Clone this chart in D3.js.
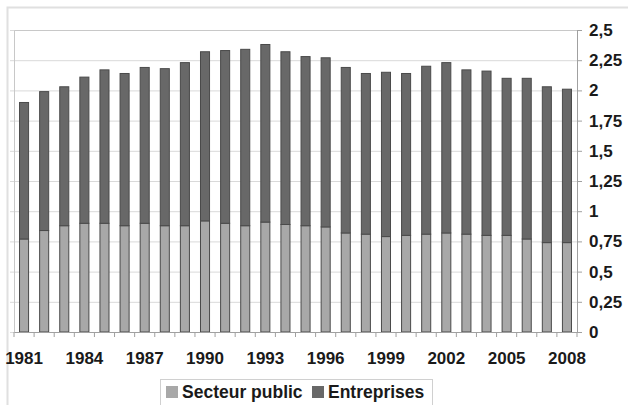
<!DOCTYPE html>
<html>
<head>
<meta charset="utf-8">
<script src="https://cdn.jsdelivr.net/npm/d3@7"></script>
<style>
  body { margin: 0; background: #fff; }
  svg { display: block; font-family: "Liberation Sans", Arial, sans-serif; }
</style>
</head>
<body>
<svg class="chart" width="628" height="405"></svg>
<script>
var years = [1981, 1982, 1983, 1984, 1985, 1986, 1987, 1988, 1989, 1990,
             1991, 1992, 1993, 1994, 1995, 1996, 1997, 1998, 1999, 2000,
             2001, 2002, 2003, 2004, 2005, 2006, 2007, 2008];

var secteurPublic = [0.77, 0.84, 0.88, 0.90, 0.90, 0.88, 0.90, 0.88, 0.88, 0.92,
                     0.90, 0.88, 0.91, 0.89, 0.88, 0.87, 0.82, 0.81, 0.79, 0.80,
                     0.81, 0.82, 0.81, 0.80, 0.80, 0.77, 0.74, 0.74];

var entreprises = [1.13, 1.15, 1.15, 1.21, 1.27, 1.26, 1.29, 1.30, 1.35, 1.40,
                   1.43, 1.46, 1.47, 1.43, 1.40, 1.40, 1.37, 1.33, 1.36, 1.34,
                   1.39, 1.41, 1.36, 1.36, 1.30, 1.33, 1.29, 1.27];

var yTicks = [0, 0.25, 0.5, 0.75, 1, 1.25, 1.5, 1.75, 2, 2.25, 2.5];
var seriesNames = ["Secteur public", "Entreprises"];
var colors = ["#a8a8a8", "#686868"];

var svg = d3.select(".chart"),
    margin = { top: 30, right: 51, bottom: 73, left: 14 },
    width = +svg.attr("width") - margin.left - margin.right,
    height = +svg.attr("height") - margin.top - margin.bottom;

// outer frame (only top and left edges are visible)
svg.append("path")
    .attr("d", "M7.5,405V7.5H628")
    .attr("fill", "none")
    .attr("stroke", "#e0e0e0")
    .attr("stroke-width", 2);

var data = years.map(function(yr, i) {
    return { year: yr, "Secteur public": secteurPublic[i], "Entreprises": entreprises[i] };
});

var stacked = d3.stack().keys(seriesNames)(data);

var x = d3.scaleBand().domain(years).range([0, width]).paddingInner(0.55).paddingOuter(0.275),
    y = d3.scaleLinear().domain([0, 2.5]).range([height, 0]);

var g = svg.append("g")
    .attr("transform", "translate(" + margin.left + "," + margin.top + ")");

var fmt = function(d) { return String(d).replace(".", ","); };

// gridlines
g.append("g")
    .attr("class", "grid")
    .call(d3.axisLeft(y).tickValues(yTicks).tickSize(-width).tickFormat(""))
    .call(function(s) {
        s.select(".domain").remove();
        s.selectAll("line").attr("stroke", "#d9d9d9").attr("x1", -4);
    });

// plot area frame
g.append("path")
    .attr("d", "M0.5," + height + "V0.5H" + width)
    .attr("fill", "none")
    .attr("stroke", "#c8c8c8");

// bars
g.selectAll(".serie")
    .data(stacked)
    .enter().append("g")
    .attr("class", "serie")
    .attr("fill", function(d, i) { return colors[i]; })
    .selectAll("rect")
    .data(function(d) { return d; })
    .enter().append("rect")
    .attr("x", function(d) { return x(d.data.year); })
    .attr("y", function(d) { return y(d[1]); })
    .attr("width", x.bandwidth())
    .attr("height", function(d) { return y(d[0]) - y(d[1]); })
    .attr("stroke", "#4a4a4a")
    .attr("stroke-width", 1);

// right axis
g.append("g")
    .attr("transform", "translate(" + width + ",0)")
    .call(d3.axisRight(y).tickValues(yTicks).tickSize(5).tickPadding(7).tickFormat(fmt))
    .call(function(s) {
        s.select(".domain").attr("stroke", "#a0a0a0");
        s.selectAll("line").attr("stroke", "#a0a0a0");
        s.selectAll("text").attr("font-size", "17px").attr("font-weight", "bold").attr("fill", "#1a1a1a");
    });

// bottom axis
var xAxis = g.append("g")
    .attr("transform", "translate(0," + height + ")")
    .call(d3.axisBottom(x)
        .tickValues(years.filter(function(d, i) { return i % 3 === 0; }))
        .tickSize(0).tickPadding(20))
    .call(function(s) {
        s.select(".domain").attr("stroke", "#a0a0a0");
        s.selectAll("text").attr("font-size", "17px").attr("font-weight", "bold").attr("fill", "#1a1a1a");
    });

// boundary ticks between categories
xAxis.selectAll(".bound")
    .data(years.concat(["end"]))
    .enter().append("line")
    .attr("class", "bound")
    .attr("x1", function(d) {
        return d === "end" ? width : x(d) + x.bandwidth() / 2 - x.step() / 2;
    })
    .attr("x2", function(d) {
        return d === "end" ? width : x(d) + x.bandwidth() / 2 - x.step() / 2;
    })
    .attr("y1", 0)
    .attr("y2", 5)
    .attr("stroke", "#a0a0a0");

// legend
var legend = svg.append("g").attr("transform", "translate(160,379)");
legend.append("rect")
    .attr("x", 0.5).attr("y", 0.5)
    .attr("width", 272).attr("height", 26)
    .attr("fill", "#fff")
    .attr("stroke", "#d0d0d0");

var items = [{ x: 6, tx: 22 }, { x: 152, tx: 168 }];
seriesNames.forEach(function(name, i) {
    legend.append("rect")
        .attr("x", items[i].x).attr("y", 7)
        .attr("width", 12).attr("height", 12)
        .attr("fill", colors[i]);
    legend.append("text")
        .attr("x", items[i].tx).attr("y", 19)
        .attr("font-size", "17.5px")
        .attr("font-weight", "bold")
        .attr("fill", "#1a1a1a")
        .text(name);
});
</script>
</body>
</html>
